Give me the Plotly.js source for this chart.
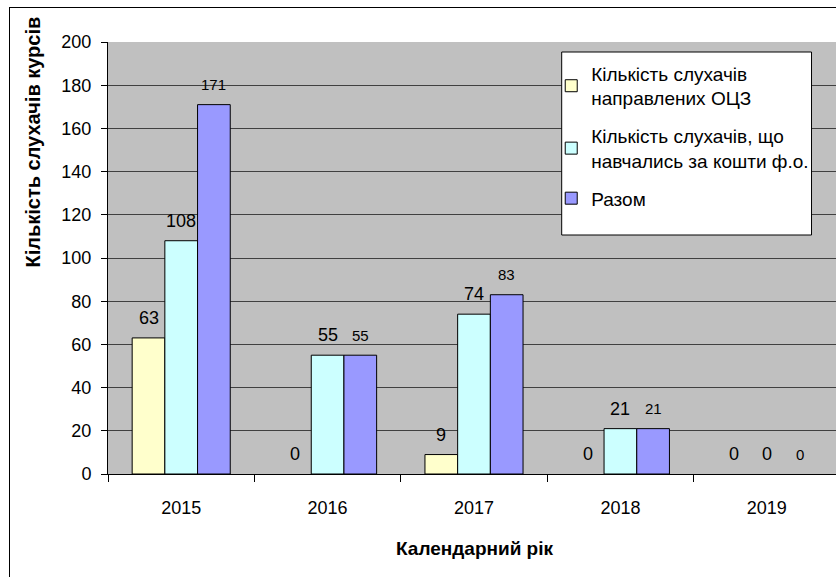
<!DOCTYPE html>
<html>
<head>
<meta charset="utf-8">
<script src="https://cdn.plot.ly/plotly-3.0.1.min.js"></script>
<style>
html,body{margin:0;padding:0;overflow:hidden;background:#fff;}
#wrap{position:relative;width:836px;height:577px;overflow:hidden;}
#chart{position:absolute;left:0;top:0;width:845px;height:577px;}
#frame{position:absolute;left:9px;top:7px;width:900px;height:700px;border:1px solid #000;pointer-events:none;}
</style>
</head>
<body>
<div id="wrap"><div id="chart"></div><div id="frame"></div></div>
<script>
const categories = ['2015', '2016', '2017', '2018', '2019'];
const directedOCZ = [63, 0, 9, 0, 0];
const selfPaid = [108, 55, 74, 21, 0];
const total = [171, 55, 83, 21, 0];
const seriesNames = ['Кількість слухачів<br>направлених ОЦЗ', 'Кількість слухачів, що<br>навчались за кошти ф.о.', 'Разом'];
const yTicks = [0, 20, 40, 60, 80, 100, 120, 140, 160, 180, 200];

const colors = ['#FFFFCC', '#CCFFFF', '#9999FF'];
const labelSizes = [18, 18, 15];
const seriesData = [directedOCZ, selfPaid, total];
const bargap = 0.33;
const fontFam = '"Liberation Sans", Arial, sans-serif';

const traces = seriesData.map((vals, s) => ({
  type: 'bar',
  name: seriesNames[s],
  x: categories,
  y: vals,
  marker: {color: colors[s], line: {color: '#000', width: vals.map(v => v === 0 ? 0 : 1)}},
  legendgroup: 'g' + s,
  hoverinfo: 'y'
}));

const w = (1 - bargap) / 3;
const annotations = [];
seriesData.forEach((vals, s) => {
  vals.forEach((v, j) => {
    annotations.push({
      x: j + (s - 1) * w, y: v, xref: 'x', yref: 'y',
      text: String(v), showarrow: false, xanchor: 'center', yanchor: 'middle', yshift: 20,
      font: {family: fontFam, size: labelSizes[s], color: '#000'}
    });
  });
});
annotations.push({
  xref: 'paper', yref: 'paper', x: -0.102, y: 0.768, textangle: -90,
  xanchor: 'center', yanchor: 'middle',
  text: '<b>Кількість слухачів курсів</b>', showarrow: false,
  font: {family: fontFam, size: 20, color: '#000'}
});
annotations.push({
  xref: 'paper', yref: 'paper', x: 0.5, y: -0.172,
  xanchor: 'center', yanchor: 'middle',
  text: '<b>Календарний рік</b>', showarrow: false,
  font: {family: fontFam, size: 19, color: '#000'}
});

const layout = {
  width: 845, height: 577,
  margin: {l: 108, r: 4.5, t: 42, b: 103},
  paper_bgcolor: '#fff',
  plot_bgcolor: '#C0C0C0',
  barmode: 'group',
  bargap: bargap,
  bargroupgap: 0,
  font: {family: fontFam, size: 18, color: '#000'},
  showlegend: true,
  legend: {
    x: 0.6055, y: 0.971, xanchor: 'left', yanchor: 'top',
    bgcolor: 'rgba(0,0,0,0)', borderwidth: 0,
    font: {family: fontFam, size: 19, color: '#000'},
    traceorder: 'grouped', tracegroupgap: 10
  },
  shapes: [{
    type: 'rect', xref: 'paper', yref: 'paper', layer: 'above',
    x0: (562 - 108) / 732.5, x1: (812 - 108) / 732.5,
    y0: (474 - 235) / 432, y1: (474 - 52) / 432,
    fillcolor: '#fff', line: {color: '#000', width: 1}
  }],
  xaxis: {
    type: 'category',
    showgrid: false, showline: true, linecolor: '#000', linewidth: 1,
    ticks: 'outside', tickson: 'boundaries', ticklen: 7, tickcolor: '#000',
    ticklabelstandoff: 17,
    tickfont: {family: fontFam, size: 18, color: '#000'},
    fixedrange: true
  },
  yaxis: {
    range: [0, 200], tickvals: yTicks, ticktext: yTicks.map(String),
    showgrid: true, gridcolor: '#404040', gridwidth: 1,
    zeroline: false, showline: true, linecolor: '#000', linewidth: 1,
    ticks: 'outside', ticklen: 6, tickcolor: '#000',
    ticklabelstandoff: 6,
    tickfont: {family: fontFam, size: 18, color: '#000'},
    fixedrange: true
  },
  annotations: annotations
};

Plotly.newPlot('chart', traces, layout, {displayModeBar: false, staticPlot: true});
</script>
</body>
</html>
